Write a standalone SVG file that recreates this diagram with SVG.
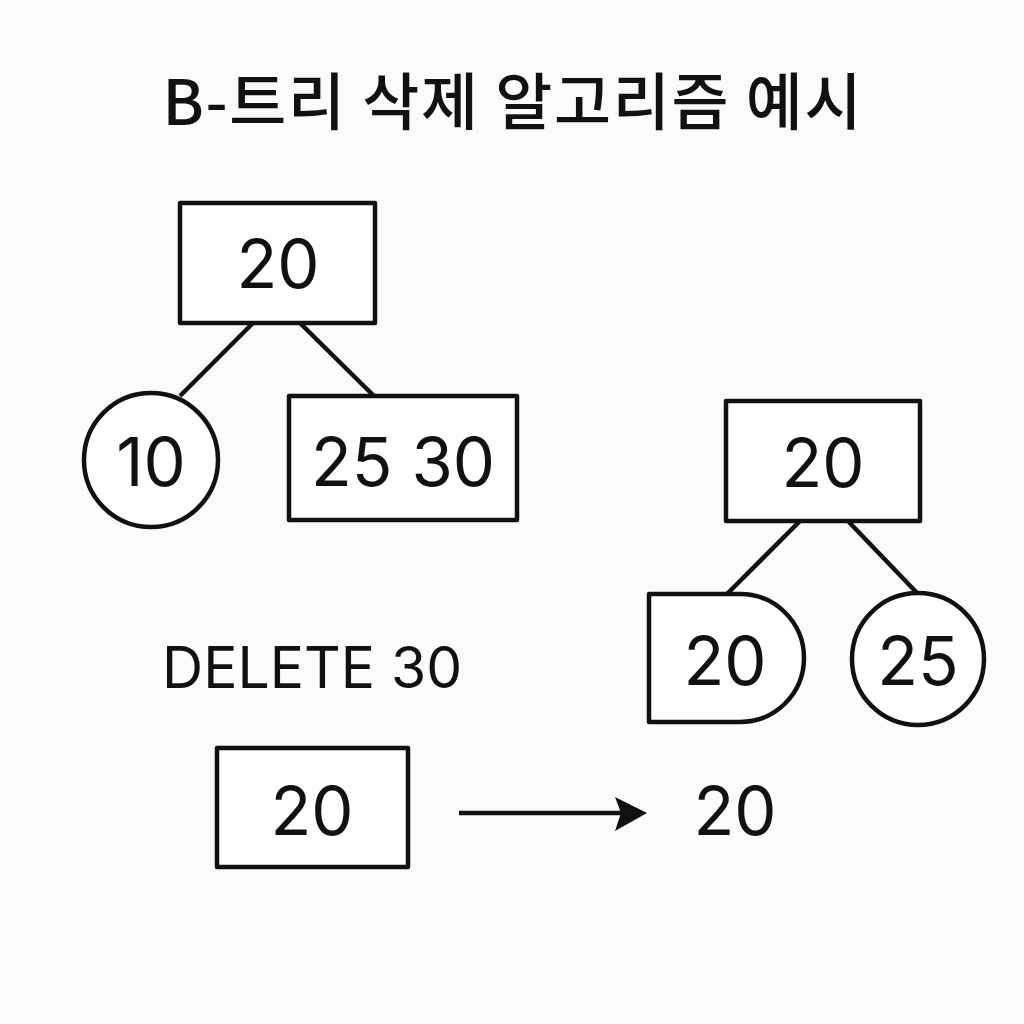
<svg xmlns="http://www.w3.org/2000/svg" width="1024" height="1024" viewBox="0 0 1024 1024">
<style>
.shape{fill:#fff;stroke:#111;stroke-width:4.5;stroke-linejoin:round}
.edge{stroke:#111;stroke-width:4.5;fill:none}
.num{font-family:Inter,"Noto Sans",sans-serif;font-size:67px;fill:#111;text-anchor:middle}
.title{font-family:"Noto Sans CJK KR","Noto Sans",sans-serif;font-size:62px;font-weight:500;fill:#111;text-anchor:middle}
.label{font-family:Inter,"Noto Sans",sans-serif;font-size:57px;fill:#111}
</style>
<rect width="1024" height="1024" fill="#fbfbfb"/>
<text class="title" x="512" y="125" textLength="699" lengthAdjust="spacing">B-트리 삭제 알고리즘 예시</text>
<g id="connectors">
<line class="edge" x1="253" y1="323" x2="180" y2="396"/>
<line class="edge" x1="300" y1="323" x2="374" y2="396"/>
<line class="edge" x1="800" y1="521" x2="727" y2="594"/>
<line class="edge" x1="848" y1="521" x2="918" y2="594"/>
<line class="edge" x1="459" y1="813" x2="625" y2="813"/>
<polygon points="647,813 615,797 621,813 615,831" fill="#111"/>
</g>
<g id="node-root1">
<rect class="shape" x="180" y="203" width="195" height="120"/>
<text class="num" x="278" y="288">20</text>
</g>
<g id="node-10">
<circle class="shape" cx="151" cy="460" r="67"/>
<text class="num" x="151" y="486">10</text>
</g>
<g id="node-2530">
<rect class="shape" x="289" y="396" width="228" height="124"/>
<text class="num" x="403" y="486">25 30</text>
</g>
<g id="node-root2">
<rect class="shape" x="726" y="401" width="194" height="120"/>
<text class="num" x="823" y="487">20</text>
</g>
<g id="node-20d">
<path class="shape" d="M649,594 H740 A64,64 0 0 1 740,722 H649 Z"/>
<text class="num" x="725" y="685">20</text>
</g>
<g id="node-25">
<circle class="shape" cx="918" cy="659" r="66"/>
<text class="num" x="918" y="685">25</text>
</g>
<text class="label" x="162" y="688">DELETE 30</text>
<g id="node-bottom">
<rect class="shape" x="217" y="748" width="191" height="119"/>
<text class="num" x="312" y="835">20</text>
</g>
<text class="num" x="735" y="835">20</text>
</svg>
